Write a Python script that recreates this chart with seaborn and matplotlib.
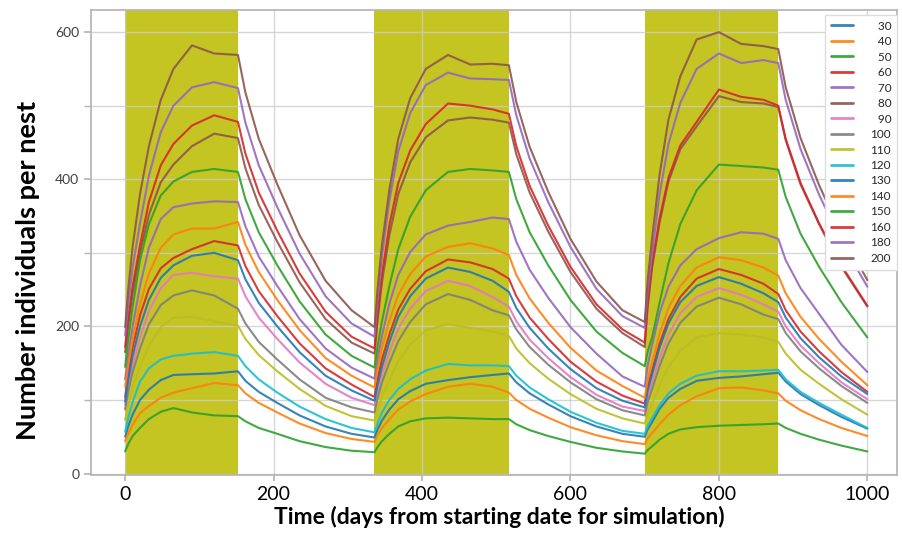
import matplotlib
matplotlib.use("Agg")
import matplotlib.pyplot as plt
from matplotlib.ticker import MultipleLocator
import seaborn as sns
import pandas as pd

# sample times (days) shared by every series
time_days = [0, 4, 10, 20, 32, 48, 65, 90, 120, 152, 162, 180, 205, 235, 270, 305, 336,
             340, 346, 356, 368, 384, 405, 435, 465, 495, 517, 527, 545, 570, 600, 635, 670, 700,
             704, 710, 720, 732, 748, 770, 800, 830, 860, 880, 890, 910, 935, 965, 1000]

series_labels = ['30', '40', '50', '60', '70', '80', '90', '100',
                 '110', '120', '130', '140', '150', '160', '180', '200']

values_30 = [50, 64, 80, 100, 114, 127, 134, 135, 136, 139, 126, 111, 96, 79, 64, 54, 49,
             60, 72, 87, 101, 112, 122, 127, 131, 134, 136, 124, 109, 94, 78, 64, 54, 50,
             60, 70, 88, 103, 115, 126, 130, 132, 135, 137, 125, 108, 93, 77, 61]
values_40 = [44, 54, 66, 82, 92, 103, 110, 116, 123, 120, 109, 96, 83, 68, 55, 47, 43,
             52, 62, 74, 87, 98, 108, 118, 122, 118, 110, 100, 88, 76, 63, 52, 44, 40,
             48, 55, 67, 80, 93, 105, 116, 117, 113, 109, 99, 86, 74, 62, 51]
values_50 = [30, 40, 51, 62, 74, 84, 89, 83, 79, 78, 71, 62, 54, 44, 36, 31, 29,
             36, 44, 54, 64, 71, 75, 76, 75, 74, 74, 67, 59, 51, 43, 35, 30, 27,
             32, 37, 46, 54, 60, 63, 65, 66, 67, 68, 62, 54, 46, 38, 30]
values_60 = [104, 135, 171, 215, 251, 279, 293, 305, 316, 310, 282, 248, 214, 177, 143, 121, 104,
             127, 155, 189, 223, 251, 275, 291, 287, 278, 265, 241, 212, 183, 152, 125, 106, 95,
             118, 140, 176, 210, 240, 265, 278, 270, 258, 244, 222, 193, 166, 138, 111]
values_70 = [128, 159, 199, 255, 307, 346, 362, 367, 370, 369, 336, 295, 255, 210, 170, 144, 129,
             155, 187, 231, 270, 301, 325, 337, 342, 348, 346, 315, 277, 239, 199, 163, 132, 118,
             147, 175, 218, 254, 283, 305, 320, 328, 326, 319, 290, 252, 217, 175, 138]
values_80 = [165, 201, 244, 300, 352, 396, 420, 445, 462, 456, 415, 365, 315, 260, 210, 178, 163,
             207, 260, 324, 380, 423, 457, 480, 484, 481, 477, 434, 382, 329, 274, 224, 191, 172,
             226, 280, 341, 397, 441, 472, 513, 505, 503, 498, 453, 393, 339, 281, 227]
values_90 = [93, 119, 149, 185, 221, 252, 270, 273, 268, 265, 241, 212, 183, 151, 122, 103, 93,
             112, 135, 165, 197, 224, 248, 262, 255, 240, 227, 207, 182, 157, 131, 107, 91, 85,
             105, 125, 157, 189, 218, 240, 252, 243, 230, 220, 200, 174, 150, 124, 101]
values_100 = [87, 111, 138, 170, 203, 229, 242, 249, 242, 224, 204, 179, 155, 128, 103, 90, 83,
              102, 124, 151, 180, 206, 230, 244, 236, 222, 215, 196, 172, 148, 124, 101, 86, 79,
              97, 115, 146, 177, 205, 227, 239, 230, 216, 210, 191, 166, 143, 119, 96]
values_110 = [73, 93, 117, 145, 174, 199, 212, 213, 207, 201, 183, 161, 139, 115, 92, 78, 72,
              86, 104, 127, 153, 175, 195, 203, 198, 193, 187, 170, 150, 129, 108, 88, 75, 68,
              82, 95, 120, 145, 167, 185, 191, 189, 185, 179, 163, 141, 122, 101, 80]
values_120 = [57, 75, 97, 125, 143, 155, 160, 163, 165, 160, 146, 128, 110, 91, 74, 62, 56,
              68, 83, 100, 115, 128, 140, 149, 147, 147, 146, 133, 117, 101, 84, 69, 58, 54,
              65, 75, 93, 109, 122, 133, 139, 139, 140, 141, 128, 111, 96, 80, 62]
values_130 = [98, 127, 160, 200, 236, 266, 283, 296, 300, 290, 264, 232, 200, 165, 133, 113, 99,
              120, 145, 179, 213, 241, 265, 280, 274, 262, 247, 225, 198, 170, 142, 116, 99, 90,
              113, 135, 171, 204, 233, 255, 267, 258, 245, 233, 212, 184, 158, 132, 108]
values_140 = [118, 147, 182, 230, 272, 307, 325, 333, 333, 342, 311, 274, 236, 195, 157, 133, 117,
              141, 171, 208, 243, 271, 295, 308, 313, 306, 297, 270, 238, 205, 171, 140, 119, 103,
              127, 150, 190, 225, 255, 280, 294, 290, 280, 269, 245, 213, 183, 152, 120]
values_150 = [145, 181, 226, 290, 339, 378, 397, 410, 414, 410, 373, 328, 283, 234, 189, 160, 144,
              172, 207, 255, 305, 349, 385, 410, 414, 412, 410, 373, 328, 283, 236, 193, 164, 146,
              166, 185, 232, 286, 339, 385, 420, 418, 416, 413, 376, 326, 281, 233, 185]
values_160 = [172, 209, 254, 310, 369, 419, 448, 473, 487, 478, 435, 382, 330, 272, 220, 186, 170,
              215, 270, 338, 395, 439, 475, 503, 500, 495, 489, 445, 391, 337, 281, 230, 196, 178,
              232, 285, 346, 402, 446, 478, 522, 512, 508, 500, 455, 395, 340, 283, 228]
values_180 = [188, 230, 280, 340, 405, 464, 500, 525, 532, 524, 477, 419, 362, 299, 241, 204, 186,
              236, 296, 371, 438, 490, 528, 545, 537, 536, 535, 487, 428, 369, 308, 251, 214, 198,
              249, 300, 379, 448, 504, 550, 571, 558, 562, 558, 508, 441, 379, 315, 254]
values_200 = [199, 249, 308, 380, 445, 508, 550, 582, 571, 569, 518, 455, 393, 324, 262, 222, 199,
              250, 311, 386, 455, 510, 550, 569, 556, 557, 555, 505, 444, 383, 319, 261, 222, 206,
              263, 320, 406, 481, 540, 590, 600, 584, 581, 577, 525, 456, 392, 326, 263]

# shaded periods (days)
band_starts = [0, 335, 700]
band_ends = [152, 517, 880]

all_values = [values_30, values_40, values_50, values_60, values_70, values_80,
              values_90, values_100, values_110, values_120, values_130, values_140,
              values_150, values_160, values_180, values_200]

df = pd.concat([pd.DataFrame({'Time': time_days, 'Count': vals, 'Series': lab})
                for lab, vals in zip(series_labels, all_values)], ignore_index=True)

sns.set_theme(style="ticks")
plt.rcParams['font.family'] = ['Lato', 'DejaVu Sans']

tab10 = sns.color_palette('tab10', 10)
colors = [tab10[i % 10] for i in range(len(series_labels))]

fig = plt.figure(figsize=(9.03, 5.33), dpi=100)
ax = fig.add_axes([0.1008, 0.1088, 0.8926, 0.8723])

for s, e in zip(band_starts, band_ends):
    ax.axvspan(s, e, color='#c4c423', lw=0, zorder=0.2)

sns.lineplot(data=df, x='Time', y='Count', hue='Series', hue_order=series_labels,
             palette=colors, estimator=None, linewidth=1.5, alpha=0.9, ax=ax)

ax.set_xlim(-46, 1040)
ax.set_ylim(-2, 630)
ax.set_xticks(range(0, 1001, 200))
ax.yaxis.set_major_locator(MultipleLocator(200))
ax.yaxis.set_minor_locator(MultipleLocator(100))
ax.set_axisbelow(True)
ax.grid(axis='x', which='major', color='#cccccc', alpha=0.8, lw=1)
ax.grid(axis='y', which='both', color='#cccccc', alpha=0.8, lw=1)

for sp in ax.spines.values():
    sp.set_color('#b5b5b5')
ax.tick_params(axis='x', labelsize=14, colors='#b5b5b5', labelcolor='black', length=4, pad=4)
ax.tick_params(axis='y', which='both', labelsize=10, colors='#b5b5b5', labelcolor='#404040', length=5)

ax.set_xlabel('Time (days from starting date for simulation)', fontsize=16.5,
              fontweight='bold', color='black')
ax.xaxis.set_label_coords(0.507, -0.066)
ax.set_ylabel('Number individuals per nest', fontsize=19.5, fontweight='bold',
              color='black')
ax.yaxis.set_label_coords(-0.063, 0.44)

handles, labels = ax.get_legend_handles_labels()
pad_labels = ['\u2007' * (3 - len(l)) + l for l in labels]
leg = ax.legend(handles, pad_labels, loc='upper right', bbox_to_anchor=(1.0, 0.99),
                borderaxespad=0, fontsize=8.5, labelspacing=0.38, handlelength=1.85,
                handletextpad=1.5, borderpad=0.5, frameon=True, fancybox=False,
                framealpha=1, edgecolor='#dddddd')
for h in leg.get_lines():
    h.set_linewidth(2)

fig.savefig('out.png', dpi=100)
